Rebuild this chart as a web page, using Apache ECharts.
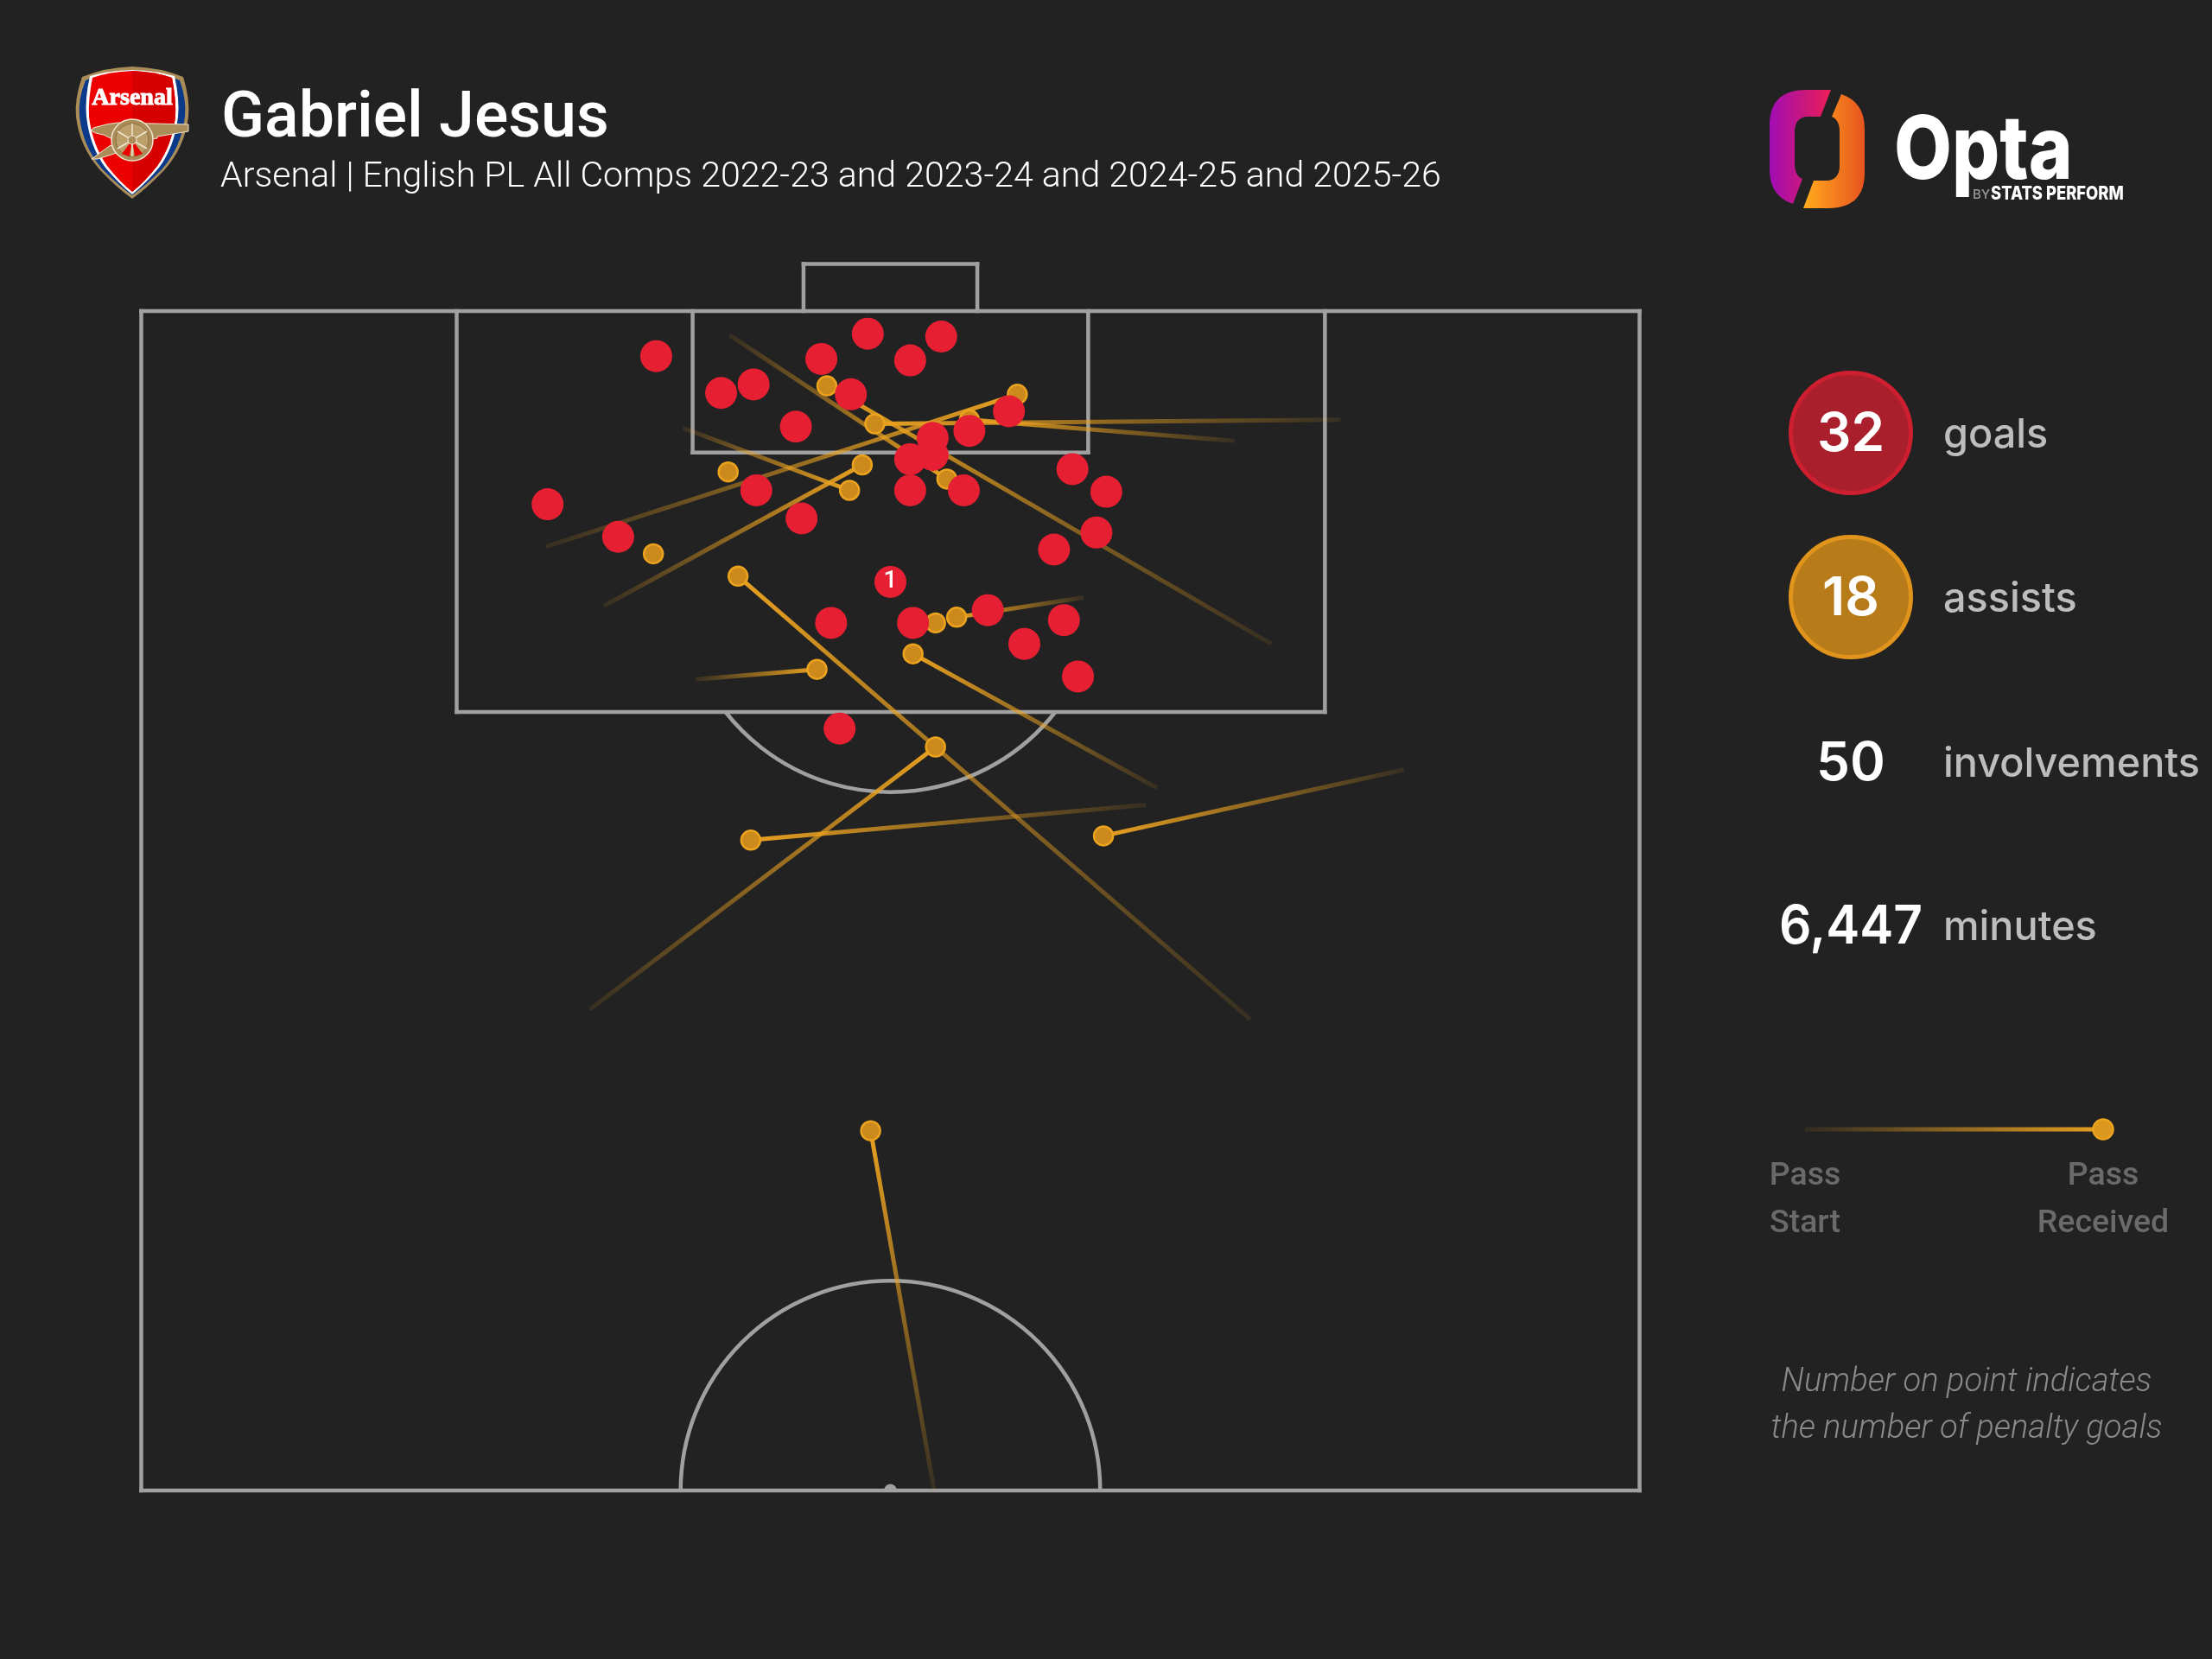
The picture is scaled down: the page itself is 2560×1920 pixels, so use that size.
<!DOCTYPE html>
<html><head><meta charset="utf-8">
<style>html,body{margin:0;padding:0;background:#222222}#c{width:2560px;height:1920px}</style>
<script src="https://cdn.jsdelivr.net/npm/echarts@6/dist/echarts.min.js"></script>
</head><body><div id="c"></div>
<script>
// pitch coordinates: across 0-100, along 50-100 (halfway line to goal line)
const goals = [[34.37,98.09],[38.70,96.53],[40.87,96.89],[45.39,97.97],[48.49,99.04],[51.32,97.91],[53.39,98.92],[47.36,96.47],[43.69,95.10],[52.82,94.62],[55.27,94.92],[57.91,95.75],[51.32,93.72],[52.82,93.90],[51.32,92.40],[54.90,92.40],[41.05,92.40],[44.07,91.21],[27.12,91.81],[31.83,90.43],[62.15,93.30],[64.41,92.34],[63.75,90.61],[60.92,89.89],[50.00,88.52],[46.04,86.78],[51.51,86.78],[56.50,87.32],[61.58,86.90],[58.94,85.89],[62.52,84.51],[46.61,82.30]];
const penaltyCounts = {24:'1'};
const assistEnds = [[53.77,92.88],[45.76,96.83],[48.96,95.22],[55.27,95.39],[58.47,96.47],[48.12,93.48],[47.27,92.40],[39.17,93.18],[34.18,89.71],[54.42,87.02],[53.01,86.78],[39.83,88.76],[53.01,81.52],[51.51,85.47],[45.10,84.81],[40.68,77.57],[64.22,77.75],[48.68,65.25]];
const assistStarts = [[39.27,98.98],[75.42,85.89],[80.04,95.39],[72.97,94.50],[27.02,90.01],[30.88,87.50],[36.16,95.04],[39.17,93.18],[34.18,89.71],[62.90,87.86],[53.01,86.78],[74.01,69.98],[29.94,70.39],[67.80,79.78],[37.01,84.39],[67.04,79.07],[84.27,80.56],[52.92,50.00]];
const pitchSegments = [[0,50,100,50],[0,50,0,100],[100,50,100,100],[0,100,100,100],[21.05,100,21.05,83],[79,100,79,83],[21.05,83,79,83],[36.8,100,36.8,94],[63.2,100,63.2,94],[36.8,94,63.2,94],[44.2,100,44.2,102],[55.8,100,55.8,102],[44.2,102,55.8,102]];
const pitchArcs = [[50,50,14.0,180,360],[50,88.5,14.0,38.1,141.9],[50,50,0.3,180,360]];
const stats = [['32','goals'],['18','assists'],['50','involvements'],['6,447','minutes']];
const titleText = 'Gabriel Jesus';
const subtitleText = 'Arsenal | English PL All Comps 2022-23 and 2023-24 and 2024-25 and 2025-26';

const LG = echarts.graphic.LinearGradient;
const LINE='#a0a0a0';
const sans='Roboto', wide='Inter';
function tx(text,x,y,size,color,opt,scaleX){return {type:'text',silent:true,x:x,y:y,z:50,scaleX:scaleX||1,style:Object.assign({text:text,fill:color,fontSize:size,fontFamily:sans,align:'left',verticalAlign:'middle'},opt||{})}}
function path(d,fill,extra){return {type:'path',silent:true,shape:{pathData:d},style:Object.assign({fill:fill},extra||{})}}

const shield=(i)=>`M153 ${77+i} Q${185-i/2} ${78+i} ${212-i} ${89+i} Q${220-i} 115 ${218-i} 135 Q${214-i} 170 ${190-i*.6} ${197-i*.3} Q${170-i*.5} ${218-i*.6} 153 ${230-i} Q${136+i*.5} ${218-i*.6} ${116+i*.6} ${197-i*.3} Q${92+i} 170 ${88+i} 135 Q${86+i} 115 ${95+i} ${89+i} Q${122+i/2} ${78+i} 153 ${77+i}Z`;
const gold='#A98C58';
const logos=[
 path(shield(0),gold),
 path(shield(4),'#0B3A8A'),
 path('M153 81 Q182 82 202 88 Q208 115 206 135 Q202 170 184 194 Q168 213 153 225 Q138 213 122 194 Q104 170 100 135 Q98 115 104 88 Q124 82 153 81Z','#ffffff'),
 path('M153 82 Q180 83 199 90 Q204 115 203 135 Q199 168 182 192 Q168 210 153 222 Q138 210 124 192 Q107 168 103 135 Q102 115 107 90 Q126 83 153 82Z','#EC0000'),
 path('M153 82 Q180 83 199 90 Q204 115 203 135 Q199 168 182 192 Q168 210 153 222Z','#D60000'),
 path('M108 148 Q124 143 136 142 L218 144 L218 152 L182 158 L182 160 L170 162 L132 162 L120 156 Q108 154 106 151Z',gold,{stroke:'#f2e6d2',lineWidth:1}),
 path('M106 184 L128 168 L138 176 L113 184Z',gold,{stroke:'#f2e6d2',lineWidth:1}),
 {type:'circle',silent:true,shape:{cx:153,cy:162,r:24},style:{fill:gold,stroke:'#f2e6d2',lineWidth:1.5}},
 {type:'circle',silent:true,shape:{cx:153,cy:162,r:19},style:{fill:'#BBA06C',stroke:'#8a6f3f',lineWidth:1}},
 path('M153 162 L141 178 L150 181Z M153 162 L156 181 L165 178Z','#EC0000'),
 path('M153 143 L153 181 M136 152 L170 172 M136 172 L170 152','none',{stroke:'#f2e6d2',lineWidth:1.5}),
 {type:'circle',silent:true,shape:{cx:153,cy:162,r:5},style:{fill:gold,stroke:'#f2e6d2',lineWidth:1}},
 tx('Arsenal',153,114,28,'#ffffff',{fontFamily:'Liberation Serif',fontWeight:'bold',align:'center',stroke:'#ffffff',lineWidth:1}),
 path('M2119 104 L2090 104 C2060 104 2048 120 2048 145 L2048 196 C2048 218 2058 230 2075 236 L2086 207 C2080 205 2077 198 2077 190 L2077 152 C2077 142 2082 135 2092 135 L2107 135 Z',
   new LG(2048,170,2119,170,[{offset:0,color:'#A10DB4'},{offset:1,color:'#EA1F55'}],true)),
 path('M2087 241 L2116 241 C2146 241 2158 225 2158 200 L2158 149 C2158 127 2148 115 2131 109 L2120 135 C2126 137 2129 144 2129 152 L2129 192 C2129 202 2124 209 2114 209 L2099 209 Z',
   new LG(2090,175,2158,175,[{offset:0,color:'#FFA81C'},{offset:1,color:'#E8541F'}],true)),
 tx('Opta',2192,176,102,'#ffffff',{fontFamily:wide,fontWeight:800,letterSpacing:-2},0.85),
 tx('BY',2283,225,15,'#9a9a9a',{fontFamily:wide,fontWeight:500}),
 tx('STATS PERFORM',2304,225,21,'#ffffff',{fontFamily:wide,fontWeight:800},0.875)
];
const statY=[501,691,882,1071];
const statGraphics=[
 {type:'circle',silent:true,z:40,shape:{cx:2142,cy:501,r:69.5},style:{fill:'#A91F2B',stroke:'#CE1F30',lineWidth:5}},
 {type:'circle',silent:true,z:40,shape:{cx:2142,cy:691,r:69.5},style:{fill:'#B87B1A',stroke:'#E0941C',lineWidth:5}}
];
stats.forEach((s,i)=>{
 statGraphics.push(tx(s[0],2142,statY[i]+2,62,'#ffffff',{fontFamily:wide,fontWeight:600,align:'center'},i===3?0.945:1));
 statGraphics.push(tx(s[1],2249,statY[i]+3,46.8,'#BDBDBD',{fontFamily:wide,fontWeight:500}));
});
const legend=[
 {type:'line',silent:true,z:40,shape:{x1:2089,y1:1307,x2:2434,y2:1307},style:{lineWidth:5,stroke:new LG(2089,1307,2434,1307,[{offset:0,color:'rgba(232,160,32,0.08)'},{offset:1,color:'rgba(232,160,32,1)'}],true)}},
 {type:'circle',silent:true,z:41,shape:{cx:2434,cy:1307,r:11.5},style:{fill:'#DC981E',stroke:'#EBA21F',lineWidth:2.5}},
 tx('Pass',2089,1362,37.5,'#6A6A6A',{align:'center',fontWeight:500}),
 tx('Start',2089,1417,37.5,'#6A6A6A',{align:'center',fontWeight:500}),
 tx('Pass',2434,1362,37.5,'#6A6A6A',{align:'center',fontWeight:500}),
 tx('Received',2434,1417,37.5,'#6A6A6A',{align:'center',fontWeight:500}),
 tx('Number on point indicates',2276,1600,38.2,'#8A8A8A',{align:'center',fontStyle:'italic',fontWeight:300}),
 tx('the number of penalty goals',2276,1654,38.2,'#8A8A8A',{align:'center',fontStyle:'italic',fontWeight:300})
];
const header=[
 tx(titleText,256,140,73.5,'#ffffff',{fontWeight:500}),
 tx(subtitleText,255,206,41.1,'#ffffff',{fontWeight:300})
];

const chart=echarts.init(document.getElementById('c'),null,{width:2560,height:1920,renderer:'canvas'});
chart.setOption({
 backgroundColor:'#222222',animation:false,
 grid:{left:163.5,top:360,width:1734,height:1365,show:false},
 xAxis:{type:'value',min:0,max:100,show:false},
 yAxis:{type:'value',min:50,max:100,show:false},
 graphic:{elements:[].concat(statGraphics,legend,header)},
 series:[
  {type:'custom',silent:true,clip:false,z:1,data:pitchSegments,coordinateSystem:'cartesian2d',
   renderItem:(p,api)=>{const s=pitchSegments[p.dataIndex],a=api.coord([s[0],s[1]]),b=api.coord([s[2],s[3]]);
     return {type:'line',shape:{x1:a[0],y1:a[1],x2:b[0],y2:b[1]},style:{stroke:LINE,lineWidth:4.5,lineCap:'square'}};}},
  {type:'custom',silent:true,clip:false,z:1,data:pitchArcs,coordinateSystem:'cartesian2d',
   renderItem:(p,api)=>{const s=pitchArcs[p.dataIndex],c=api.coord([s[0],s[1]]),r=api.size([s[2],0])[0];
     return {type:'arc',shape:{cx:c[0],cy:c[1],r:r,startAngle:s[3]*Math.PI/180,endAngle:s[4]*Math.PI/180,clockwise:true},style:{fill:s[2]<1?LINE:'none',stroke:LINE,lineWidth:4.5}};}},
  {type:'custom',silent:true,clip:false,z:2,data:assistEnds,coordinateSystem:'cartesian2d',
   renderItem:(p,api)=>{const e=assistEnds[p.dataIndex],st=assistStarts[p.dataIndex],a=api.coord(st),b=api.coord(e);
     return {type:'line',shape:{x1:a[0],y1:a[1],x2:b[0],y2:b[1]},style:{lineWidth:5,stroke:new LG(a[0],a[1],b[0],b[1],[{offset:0,color:'rgba(232,160,32,0.1)'},{offset:1,color:'rgba(232,160,32,1)'}],true)}};}},
  {type:'scatter',silent:true,z:3,data:assistEnds,symbolSize:22,itemStyle:{color:'#CC8A1C',borderColor:'#EBA21F',borderWidth:2.5,opacity:1}},
  {type:'scatter',silent:true,z:4,data:goals.map((g,i)=>penaltyCounts[i]?{value:g,label:{show:true,formatter:penaltyCounts[i],color:'#fff',fontSize:28,fontFamily:sans,fontWeight:500,position:'inside'}}:{value:g}),symbolSize:37,itemStyle:{color:'#E61F32',opacity:1}},
  {type:'custom',silent:true,z:5,coordinateSystem:'none',data:[0],renderItem:()=>({type:'group',children:logos})}
 ]
});
</script></body></html>
